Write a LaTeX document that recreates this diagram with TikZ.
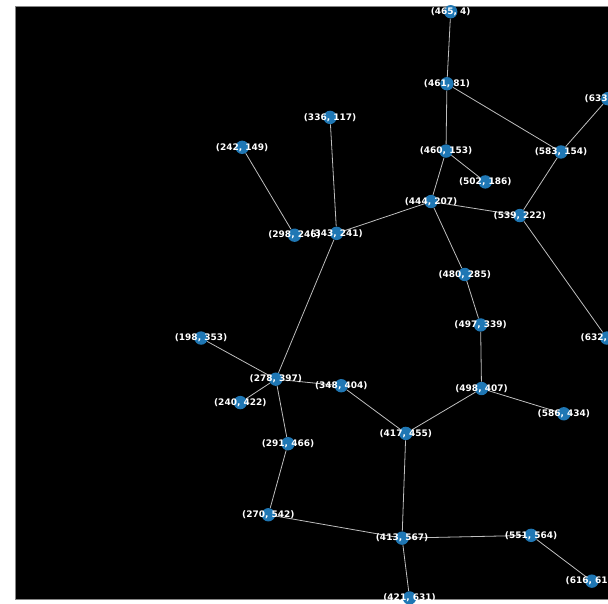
\documentclass[tikz,border=0pt]{standalone}
\usepackage{fontspec}
\setmainfont{DejaVu Sans}
\usetikzlibrary{backgrounds}
\definecolor{nodeblue}{RGB}{31,119,180}
\definecolor{edgegray}{RGB}{190,190,190}
\tikzset{
  vertex/.style={circle, fill=nodeblue, minimum size=13.4pt, inner sep=0pt},
  lbl/.style={text=white, inner sep=0pt, font=\fontsize{9}{10}\selectfont\bfseries},
  edge/.style={draw=edgegray, line width=0.8pt}
}
\begin{document}
\begin{tikzpicture}[x=0.935pt, y=-0.935pt]
  \useasboundingbox (0pt,0pt) rectangle (608pt,-604pt);
  \clip (0pt,0pt) rectangle (608pt,-604pt);
  \begin{scope}[shift={(15.9pt,-8pt)}]
  % vertices
  \node[vertex, label={[lbl]center:(465, 4)}]   (v1)  at (465,4)   {};
  \node[vertex, label={[lbl]center:(461, 81)}]  (v2)  at (461,81)  {};
  \node[vertex, label={[lbl]center:(336, 117)}] (v3)  at (336,117) {};
  \node[vertex, label={[lbl]center:(242, 149)}] (v4)  at (242,149) {};
  \node[vertex, label={[lbl]center:(460, 153)}] (v5)  at (460,153) {};
  \node[vertex, label={[lbl]center:(583, 154)}] (v6)  at (583,154) {};
  \node[vertex, label={[lbl]center:(633, 97)}]  (v7)  at (633,97)  {};
  \node[vertex, label={[lbl]center:(502, 186)}] (v8)  at (502,186) {};
  \node[vertex, label={[lbl]center:(444, 207)}] (v9)  at (444,207) {};
  \node[vertex, label={[lbl]center:(539, 222)}] (v10) at (539,222) {};
  \node[vertex, label={[lbl]center:(298, 246)}] (v11) at (298,243) {};
  \node[vertex, label={[lbl]center:(343, 241)}] (v12) at (343,241) {};
  \node[vertex, label={[lbl]center:(480, 285)}] (v13) at (480,285) {};
  \node[vertex, label={[lbl]center:(497, 339)}] (v14) at (497,339) {};
  \node[vertex, label={[lbl]center:(198, 353)}] (v15) at (198,353) {};
  \node[vertex, label={[lbl]center:(632, 353)}] (v16) at (632,353) {};
  \node[vertex, label={[lbl]center:(278, 397)}] (v17) at (278,397) {};
  \node[vertex, label={[lbl]center:(348, 404)}] (v18) at (348,404) {};
  \node[vertex, label={[lbl]center:(498, 407)}] (v19) at (498,407) {};
  \node[vertex, label={[lbl]center:(240, 422)}] (v20) at (240,422) {};
  \node[vertex, label={[lbl]center:(586, 434)}] (v21) at (586,434) {};
  \node[vertex, label={[lbl]center:(417, 455)}] (v22) at (417,455) {};
  \node[vertex, label={[lbl]center:(291, 466)}] (v23) at (291,466) {};
  \node[vertex, label={[lbl]center:(270, 542)}] (v24) at (270,542) {};
  \node[vertex, label={[lbl]center:(413, 567)}] (v25) at (413,567) {};
  \node[vertex, label={[lbl]center:(551, 564)}] (v26) at (551,564) {};
  \node[vertex, label={[lbl]center:(616, 613)}] (v27) at (616,613) {};
  \node[vertex, label={[lbl]center:(421, 631)}] (v28) at (421,631) {};

  % edges
  \begin{scope}[on background layer]
    \fill[black] (-0.9pt,1pt) rectangle (640,632.8);
    \draw[edgegray!70!black, line width=1pt] (640,632.8) -- (-0.9pt,632.8) -- (-0.9pt,1pt) -- (640,1pt);
    \draw[edge] (v1) -- (v2);
    \draw[edge] (v2) -- (v5);
    \draw[edge] (v2) -- (v6);
    \draw[edge] (v6) -- (v7);
    \draw[edge] (v6) -- (v10);
    \draw[edge] (v5) -- (v8);
    \draw[edge] (v5) -- (v9);
    \draw[edge] (v9) -- (v10);
    \draw[edge] (v9) -- (v12);
    \draw[edge] (v9) -- (v13);
    \draw[edge] (v3) -- (v12);
    \draw[edge] (v4) -- (v11);
    \draw[edge] (v12) -- (v17);
    \draw[edge] (v10) -- (v16);
    \draw[edge] (v13) -- (v14);
    \draw[edge] (v14) -- (v19);
    \draw[edge] (v15) -- (v17);
    \draw[edge] (v17) -- (v18);
    \draw[edge] (v17) -- (v20);
    \draw[edge] (v17) -- (v23);
    \draw[edge] (v18) -- (v22);
    \draw[edge] (v19) -- (v22);
    \draw[edge] (v19) -- (v21);
    \draw[edge] (v22) -- (v25);
    \draw[edge] (v23) -- (v24);
    \draw[edge] (v24) -- (v25);
    \draw[edge] (v25) -- (v26);
    \draw[edge] (v25) -- (v28);
    \draw[edge] (v26) -- (v27);
  \end{scope}
  \end{scope}
\end{tikzpicture}
\end{document}
